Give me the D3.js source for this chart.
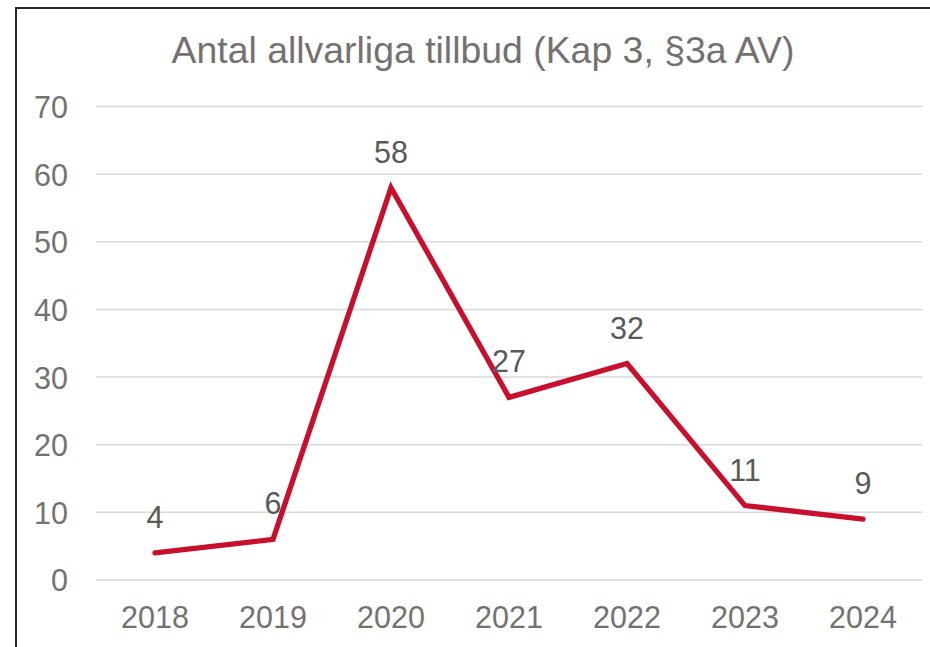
<!DOCTYPE html>
<html>
<head>
<meta charset="utf-8">
<script src="https://cdn.jsdelivr.net/npm/d3@7"></script>
<style>
  html, body { margin: 0; padding: 0; background: #fff; }
  svg { display: block; }
</style>
</head>
<body>
<svg id="chart" width="930" height="647"></svg>
<script>
// Yearly counts of serious incidents
const years = ["2018", "2019", "2020", "2021", "2022", "2023", "2024"];
const counts = [4, 6, 58, 27, 32, 11, 9];
const yTicks = [0, 10, 20, 30, 40, 50, 60, 70];
const title = "Antal allvarliga tillbud (Kap 3, §3a AV)";

const font = "'Liberation Sans', Arial, sans-serif";
const labelSize = 30.5;
const svg = d3.select("#chart");

// Chart frame (extends past the right and bottom edges)
svg.append("rect")
  .attr("x", 16).attr("y", 8)
  .attr("width", 960).attr("height", 700)
  .attr("fill", "#fff")
  .attr("stroke", "#262626")
  .attr("stroke-width", 2);

const plot = { left: 96, right: 922, top: 106.5, bottom: 580 };

const x = d3.scaleBand().domain(years).range([plot.left, plot.right]);
const y = d3.scaleLinear().domain([0, 70]).range([plot.bottom, plot.top]);

// Title
svg.append("text")
  .attr("x", 483).attr("y", 63)
  .attr("text-anchor", "middle")
  .attr("font-family", font)
  .attr("font-size", 37.4)
  .attr("fill", "#767171")
  .text(title);

// Horizontal gridlines
svg.append("g")
  .selectAll("line")
  .data(yTicks)
  .join("line")
  .attr("x1", plot.left).attr("x2", plot.right)
  .attr("y1", d => y(d)).attr("y2", d => y(d))
  .attr("stroke", "#d9d9d9")
  .attr("stroke-width", 1.5);

// Y axis labels
const yAxis = d3.axisLeft(y).tickValues(yTicks).tickSize(0).tickPadding(0);
const gy = svg.append("g").attr("transform", "translate(68,0)").call(yAxis);
gy.select(".domain").remove();
gy.selectAll("text")
  .attr("font-family", font)
  .attr("font-size", labelSize)
  .attr("fill", "#767171")
  .attr("dy", "0.36em");

// X axis labels
const xAxis = d3.axisBottom(x).tickSize(0).tickPadding(0);
const gx = svg.append("g").attr("transform", "translate(0,628)").call(xAxis);
gx.select(".domain").remove();
gx.selectAll("text")
  .attr("font-family", font)
  .attr("font-size", labelSize)
  .attr("fill", "#767171")
  .attr("dy", 0);

// Data line
const cx = d => x(d) + x.bandwidth() / 2;
const line = d3.line()
  .x((d, i) => cx(years[i]))
  .y(d => y(d));

svg.append("path")
  .datum(counts)
  .attr("d", line)
  .attr("fill", "none")
  .attr("stroke", "#C8102E")
  .attr("stroke-width", 5.3)
  .attr("stroke-linejoin", "miter")
  .attr("stroke-linecap", "round");

// Value labels above each point
svg.append("g")
  .selectAll("text")
  .data(counts)
  .join("text")
  .attr("x", (d, i) => cx(years[i]))
  .attr("y", d => y(d) - 25)
  .attr("text-anchor", "middle")
  .attr("font-family", font)
  .attr("font-size", labelSize)
  .attr("fill", "#595959")
  .text(d => d);
</script>
</body>
</html>
